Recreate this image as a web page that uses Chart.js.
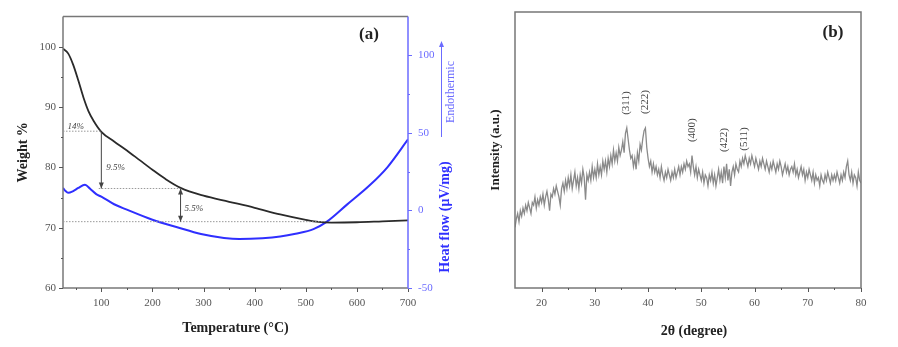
<!DOCTYPE html>
<html>
<head>
<meta charset="utf-8">
<script src="https://cdn.jsdelivr.net/npm/chart.js@4.4.1/dist/chart.umd.min.js"></script>
<style>
    html, body { margin: 0; padding: 0; background: #fff; }
    #wrap { position: relative; width: 898px; height: 347px; overflow: hidden; }
    #tgaChart { position: absolute; left: 0; top: 0; }
    #xrdChart { position: absolute; left: 470px; top: 0; }
</style>
</head>
<body>
<div id="wrap">
    <canvas id="tgaChart" width="480" height="347"></canvas>
    <canvas id="xrdChart" width="428" height="347"></canvas>
</div>
<script>
// --- Panel (a): TGA / DSC ---
const tgaTemp   = [25, 35, 45, 55, 65, 75, 85, 100, 125, 150, 175, 200, 225, 255, 300, 350, 400, 450, 500, 525, 550, 600, 650, 700];
const tgaWeight = [99.7, 98.9, 97.0, 94.4, 91.6, 89.3, 87.7, 85.9, 84.3, 82.8, 81.2, 79.6, 78.1, 76.6, 75.3, 74.3, 73.3, 72.2, 71.3, 70.95, 70.85, 70.9, 71.05, 71.2];

const dscTemp = [25, 30, 35, 45, 55, 68, 78, 90, 100, 125, 150, 200, 250, 295, 340, 370, 415, 450, 480, 515, 540, 580, 625, 660, 700];
const dscHeat = [14.5, 12.5, 11.4, 12.5, 14.5, 16.5, 14.0, 10.5, 8.9, 4.0, 0.5, -6.0, -11.0, -15.2, -17.7, -18.4, -17.9, -16.8, -15.0, -12.0, -7.5, 3.6, 16.2, 28.0, 45.8];

const tempTicks   = [100, 200, 300, 400, 500, 600, 700];
const tempMinor   = [50, 150, 250, 350, 450, 550, 650];
const weightTicks = [60, 70, 80, 90, 100];
const weightMinor = [65, 75, 85, 95];
const heatTicks   = [-50, 0, 50, 100];
const heatMinor   = [-25, 25, 75];

// weight-loss steps: levels and their labels
const lossLevels = [86, 76.5, 71];
const lossLabels = ['14%', '9.5%', '5.5%'];

// --- Panel (b): XRD ---
const xrdStart = 15;
const xrdStep = 0.25;
const xrdIntensity = [
    22, 25, 27, 24,  28, 26, 29, 27,  30, 28, 31, 29,  27, 31, 30, 33,  29, 32, 30, 33,
    31, 34, 30, 33,  35, 32, 28, 34,  33, 36, 34, 37,  35, 33, 30, 36,  38, 35, 39, 36,
    40, 37, 41, 36,  39, 42, 37, 40,  36, 41, 38, 43,  40, 32, 41, 39,  42, 39, 44, 40,
    43, 40, 45, 41,  44, 41, 46, 43,  46, 42, 47, 44,  48, 45, 50, 46,  49, 46, 51, 48,
    50, 53, 49, 56,  58, 54, 50, 47,  48, 44, 47, 43,  49, 46, 52, 50,  54, 57, 58, 51,
    47, 44, 46, 42,  45, 42, 44, 41,  43, 40, 44, 41,  39, 42, 40, 43,  41, 39, 42, 40,
    43, 40, 42, 44,  41, 44, 42, 45,  43, 46, 44, 45,  42, 48, 44, 41,  44, 40, 43, 41,
    39, 42, 38, 41,  40, 37, 41, 39,  42, 38, 41, 37,  40, 43, 39, 42,  38, 44, 40, 45,
    39, 43, 37, 42,  44, 41, 45, 43,  42, 46, 44, 47,  45, 48, 46, 44,  47, 45, 48, 46,
    44, 47, 45, 43,  46, 44, 47, 45,  43, 46, 44, 42,  45, 43, 46, 44,  42, 45, 43, 46,
    44, 41, 43, 45,  42, 44, 41, 43,  44, 42, 45, 41,  43, 40, 42, 44,  41, 43, 39, 42,
    40, 43, 41, 39,  42, 38, 41, 39,  40, 37, 41, 39,  38, 41, 39, 42,  40, 38, 41, 39,
    41, 39, 42, 40,  38, 41, 39, 42,  40, 44, 46, 41,  39, 42, 38, 41,  40, 37, 42, 39,
    38
];
const angleTicks = [20, 30, 40, 50, 60, 70, 80];
const angleMinor = [25, 35, 45, 55, 65, 75];
const peakLabels = ['(311)', '(222)', '(400)', '(422)', '(511)'];
const peakAngles = [35.9, 39.4, 48.3, 54.3, 58.0];
const peakLabelLevels = [67, 67.4, 57.2, 53.6, 54];

const SERIF = '"Liberation Serif", "Times New Roman", serif';
const BLUE = '#2f2fff';
const LIGHT_BLUE = '#6b6bff';

function setTicks(list) {
    return scale => { scale.ticks = list.map(v => ({ value: v })); };
}

function drawTickMarks(ctx, scale, values, len, color) {
    ctx.save();
    ctx.strokeStyle = color;
    ctx.lineWidth = 1;
    ctx.beginPath();
    values.forEach(v => {
        const p = Math.round(scale.getPixelForValue(v)) + 0.5;
        if (scale.isHorizontal()) {
            ctx.moveTo(p, scale.top);
            ctx.lineTo(p, scale.top + len);
        } else if (scale.position === 'left') {
            ctx.moveTo(scale.right, p);
            ctx.lineTo(scale.right - len, p);
        } else {
            ctx.moveTo(scale.left, p);
            ctx.lineTo(scale.left + len, p);
        }
    });
    ctx.stroke();
    ctx.restore();
}

function line(ctx, x1, y1, x2, y2) {
    ctx.beginPath();
    ctx.moveTo(x1, y1);
    ctx.lineTo(x2, y2);
    ctx.stroke();
}

function arrowHead(ctx, x, y, dir) {
    // dir: 1 = pointing down, -1 = pointing up
    ctx.beginPath();
    ctx.moveTo(x, y);
    ctx.lineTo(x - 2.5, y - dir * 6);
    ctx.lineTo(x + 2.5, y - dir * 6);
    ctx.closePath();
    ctx.fill();
}

function text(ctx, str, x, y, font, color, rotate) {
    ctx.save();
    ctx.font = font;
    ctx.fillStyle = color;
    ctx.textAlign = 'center';
    ctx.textBaseline = 'middle';
    ctx.translate(x, y);
    if (rotate) ctx.rotate(-Math.PI / 2);
    ctx.fillText(str, 0, 0);
    ctx.restore();
}

const tgaDecor = {
    id: 'tgaDecor',
    afterDatasetsDraw(chart) {
        const ctx = chart.ctx;
        const a = chart.chartArea;
        const x = chart.scales.x, y = chart.scales.y, y2 = chart.scales.y2;

        // frame
        ctx.save();
        ctx.lineWidth = 1.5;
        ctx.strokeStyle = '#777';
        line(ctx, a.left, a.top, a.right, a.top);
        line(ctx, a.left, a.top, a.left, a.bottom);
        line(ctx, a.left, a.bottom, a.right, a.bottom);
        ctx.strokeStyle = LIGHT_BLUE;
        line(ctx, a.right, a.top, a.right, a.bottom);
        ctx.restore();

        drawTickMarks(ctx, x, tempTicks, 4, '#555');
        drawTickMarks(ctx, x, tempMinor, 2, '#555');
        drawTickMarks(ctx, y, weightTicks, 4, '#555');
        drawTickMarks(ctx, y, weightMinor, 2, '#555');
        drawTickMarks(ctx, y2, heatTicks, 4, LIGHT_BLUE);
        drawTickMarks(ctx, y2, heatMinor, 2, LIGHT_BLUE);

        // weight-loss annotations
        ctx.save();
        ctx.strokeStyle = '#999';
        ctx.lineWidth = 1;
        ctx.setLineDash([1.5, 1.5]);
        line(ctx, x.getPixelForValue(25), y.getPixelForValue(lossLevels[0]), x.getPixelForValue(100), y.getPixelForValue(lossLevels[0]));
        line(ctx, x.getPixelForValue(95), y.getPixelForValue(lossLevels[1]), x.getPixelForValue(255), y.getPixelForValue(lossLevels[1]));
        line(ctx, x.getPixelForValue(25), y.getPixelForValue(lossLevels[2]), x.getPixelForValue(535), y.getPixelForValue(lossLevels[2]));
        ctx.setLineDash([]);
        ctx.strokeStyle = '#444';
        ctx.fillStyle = '#444';
        const ax1 = x.getPixelForValue(100);
        line(ctx, ax1, y.getPixelForValue(85.9), ax1, y.getPixelForValue(lossLevels[1]));
        arrowHead(ctx, ax1, y.getPixelForValue(lossLevels[1]), 1);
        const ax2 = x.getPixelForValue(255);
        line(ctx, ax2, y.getPixelForValue(lossLevels[1]), ax2, y.getPixelForValue(lossLevels[2]));
        arrowHead(ctx, ax2, y.getPixelForValue(lossLevels[1]), -1);
        arrowHead(ctx, ax2, y.getPixelForValue(lossLevels[2]), 1);
        ctx.restore();

        const small = 'italic 9px ' + SERIF;
        text(ctx, lossLabels[0], x.getPixelForValue(50), y.getPixelForValue(86.8), small, '#444');
        text(ctx, lossLabels[1], x.getPixelForValue(128), y.getPixelForValue(79.9), small, '#444');
        text(ctx, lossLabels[2], x.getPixelForValue(281), y.getPixelForValue(73.2), small, '#444');

        // titles
        const bold = 'bold 14px ' + SERIF;
        text(ctx, 'Weight %', 23, (a.top + a.bottom) / 2, bold, '#222', true);
        text(ctx, 'Temperature (°C)', (a.left + a.right) / 2, 328, bold, '#222');
        text(ctx, 'Heat flow (μV/mg)', 445, 217, bold, BLUE, true);
        text(ctx, 'Endothermic', 451, 92, '12px ' + SERIF, LIGHT_BLUE, true);
        ctx.save();
        ctx.strokeStyle = LIGHT_BLUE;
        ctx.fillStyle = LIGHT_BLUE;
        ctx.lineWidth = 1;
        line(ctx, 441.5, 137, 441.5, 46);
        arrowHead(ctx, 441.5, 41, -1);
        ctx.restore();
        text(ctx, '(a)', 369, 35, 'bold 17px ' + SERIF, '#222');
    }
};

new Chart(document.getElementById('tgaChart'), {
    type: 'line',
    data: {
        datasets: [
            {
                label: 'Weight',
                data: tgaTemp.map((t, i) => ({ x: t, y: tgaWeight[i] })),
                borderColor: '#2a2a2a',
                borderWidth: 1.8,
                pointRadius: 0,
                cubicInterpolationMode: 'monotone',
                yAxisID: 'y'
            },
            {
                label: 'Heat flow',
                data: dscTemp.map((t, i) => ({ x: t, y: dscHeat[i] })),
                borderColor: BLUE,
                borderWidth: 2,
                pointRadius: 0,
                cubicInterpolationMode: 'monotone',
                yAxisID: 'y2'
            }
        ]
    },
    options: {
        responsive: false,
        animation: false,
        devicePixelRatio: 1,
        layout: { padding: { top: 13, left: 0, right: 0, bottom: 0 } },
        plugins: { legend: { display: false }, tooltip: { enabled: false } },
        scales: {
            x: {
                type: 'linear', min: 25, max: 700,
                afterBuildTicks: setTicks(tempTicks),
                afterFit: s => { s.height = 59; },
                grid: { display: false, drawTicks: false },
                border: { display: false },
                ticks: { padding: 9, color: '#555', maxRotation: 0, font: { family: SERIF, size: 11 } }
            },
            y: {
                position: 'left', min: 60, max: 105,
                afterBuildTicks: setTicks(weightTicks),
                afterFit: s => { s.width = 63; },
                grid: { display: false, drawTicks: false },
                border: { display: false },
                ticks: { padding: 7, color: '#555', font: { family: SERIF, size: 11 } }
            },
            y2: {
                position: 'right', min: -50, max: 125,
                afterBuildTicks: setTicks(heatTicks),
                afterFit: s => { s.width = 72; },
                grid: { display: false, drawTicks: false },
                border: { display: false },
                ticks: { padding: 10, color: LIGHT_BLUE, font: { family: SERIF, size: 11 } }
            }
        }
    },
    plugins: [tgaDecor]
});

const xrdDecor = {
    id: 'xrdDecor',
    afterDatasetsDraw(chart) {
        const ctx = chart.ctx;
        const a = chart.chartArea;
        const x = chart.scales.x, y = chart.scales.y;

        ctx.save();
        ctx.lineWidth = 1.5;
        ctx.strokeStyle = '#777';
        ctx.strokeRect(a.left, a.top, a.right - a.left, a.bottom - a.top);
        ctx.restore();

        drawTickMarks(ctx, x, angleTicks, 4, '#555');
        drawTickMarks(ctx, x, angleMinor, 2, '#555');

        peakLabels.forEach((lbl, i) => {
            text(ctx, lbl, x.getPixelForValue(peakAngles[i]), y.getPixelForValue(peakLabelLevels[i]), '11px ' + SERIF, '#444', true);
        });

        const bold = 'bold 14px ' + SERIF;
        text(ctx, 'Intensity (a.u.)', 26, (a.top + a.bottom) / 2, 'bold 13px ' + SERIF, '#222', true);
        text(ctx, '2θ (degree)', 224, 331, bold, '#222');
        text(ctx, '(b)', 363, 33, 'bold 17px ' + SERIF, '#222');
    }
};

new Chart(document.getElementById('xrdChart'), {
    type: 'line',
    data: {
        datasets: [{
            label: 'XRD',
            data: xrdIntensity.map((v, i) => ({ x: xrdStart + i * xrdStep, y: v })),
            borderColor: '#8a8a8a',
            borderWidth: 1.3,
            pointRadius: 0,
            tension: 0
        }]
    },
    options: {
        responsive: false,
        animation: false,
        devicePixelRatio: 1,
        layout: { padding: { top: 12, left: 0, right: 37, bottom: 0 } },
        plugins: { legend: { display: false }, tooltip: { enabled: false } },
        scales: {
            x: {
                type: 'linear', min: 15, max: 80,
                afterBuildTicks: setTicks(angleTicks),
                afterFit: s => { s.height = 59; },
                grid: { display: false, drawTicks: false },
                border: { display: false },
                ticks: { padding: 9, color: '#555', maxRotation: 0, font: { family: SERIF, size: 11 } }
            },
            y: {
                position: 'left', min: 0, max: 100,
                afterFit: s => { s.width = 45; },
                grid: { display: false, drawTicks: false },
                border: { display: false },
                ticks: { display: false }
            }
        }
    },
    plugins: [xrdDecor]
});
</script>
</body>
</html>
